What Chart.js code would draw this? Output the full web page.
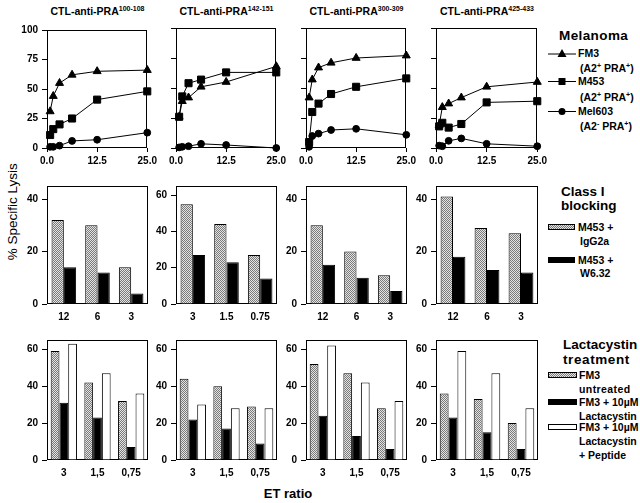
<!DOCTYPE html>
<html><head><meta charset="utf-8">
<script src="https://cdn.jsdelivr.net/npm/chart.js@4.4.1/dist/chart.umd.min.js"></script>
<style>
html,body{margin:0;padding:0;background:#fff;}
#root{position:relative;width:640px;height:503px;overflow:hidden;font-family:"Liberation Sans",Arial,Helvetica,sans-serif;color:#000;background:#fff;}
canvas{position:absolute;}
.t{position:absolute;white-space:nowrap;line-height:1;}
.title{font-size:10.5px;font-weight:bold;text-align:center;}
.title span{font-size:7px;position:relative;top:-4px;}
.lg{font-size:10.5px;font-weight:bold;}
.lg sup{font-size:7px;line-height:0;}
.hd{font-size:13.5px;font-weight:bold;}
.sw{position:absolute;border:1px solid #000;box-sizing:border-box;}
.gray{background:repeating-conic-gradient(#7a7a7a 0 25%,#e4e4e4 0 50%) 0 0/2px 2px;}
</style></head><body>
<div id="root">
  <div class="t title" style="left:47px;width:101px;top:6px">CTL-anti-PRA<span>100-108</span></div>
  <div class="t title" style="left:176px;width:101px;top:6px">CTL-anti-PRA<span>142-151</span></div>
  <div class="t title" style="left:306px;width:101px;top:6px">CTL-anti-PRA<span>300-309</span></div>
  <div class="t title" style="left:436px;width:102px;top:6px">CTL-anti-PRA<span>425-433</span></div>

  <div class="t" style="left:-47px;top:205px;width:120px;text-align:center;font-size:13.5px;transform:rotate(-90deg);">% Specific Lysis</div>
  <div class="t hd" style="left:250px;width:76px;text-align:center;top:487px;font-size:13px">ET ratio</div>

  <!-- Melanoma legend -->
  <div class="t hd" style="left:559px;top:29px;letter-spacing:0.4px">Melanoma</div>
  <svg class="t" style="left:548px;top:48px" width="28" height="11"><line x1="0" y1="6" x2="28" y2="6" stroke="#000" stroke-width="1"/><polygon points="14,1 18.5,9 9.5,9" fill="#000"/></svg>
  <div class="t lg" style="left:578px;top:48px">FM3</div>
  <div class="t lg" style="left:580px;top:63px">(A2<sup>+</sup> PRA<sup>+</sup>)</div>
  <svg class="t" style="left:548px;top:76px" width="28" height="11"><line x1="0" y1="5.5" x2="28" y2="5.5" stroke="#000" stroke-width="1"/><rect x="10.5" y="2" width="7" height="7" fill="#000"/></svg>
  <div class="t lg" style="left:578px;top:76px">M453</div>
  <div class="t lg" style="left:580px;top:92px">(A2<sup>+</sup> PRA<sup>+</sup>)</div>
  <svg class="t" style="left:548px;top:106px" width="28" height="11"><line x1="0" y1="5.5" x2="28" y2="5.5" stroke="#000" stroke-width="1"/><circle cx="14" cy="5.5" r="3.5" fill="#000"/></svg>
  <div class="t lg" style="left:578px;top:106px">Mel603</div>
  <div class="t lg" style="left:580px;top:121px">(A2<sup>-</sup> PRA<sup>+</sup>)</div>

  <!-- Class I blocking legend -->
  <div class="t hd" style="left:561px;top:185px">Class I</div>
  <div class="t hd" style="left:561px;top:199px">blocking</div>
  <div class="sw gray" style="left:548px;top:224px;width:27px;height:6px"></div>
  <div class="t lg" style="left:578px;top:222px">M453 +</div>
  <div class="t lg" style="left:580px;top:236px">IgG2a</div>
  <div class="sw" style="left:548px;top:257px;width:27px;height:6px;background:#000"></div>
  <div class="t lg" style="left:578px;top:255px">M453 +</div>
  <div class="t lg" style="left:580px;top:268px">W6.32</div>

  <!-- Lactacystin legend -->
  <div class="t hd" style="left:563px;top:338px">Lactacystin</div>
  <div class="t hd" style="left:563px;top:353px;letter-spacing:0.6px">treatment</div>
  <div class="sw gray" style="left:548px;top:372px;width:29px;height:6px"></div>
  <div class="t lg" style="left:579px;top:370px">FM3</div>
  <div class="t lg" style="left:579px;top:384px;letter-spacing:0.4px">untreated</div>
  <div class="sw" style="left:548px;top:399px;width:29px;height:6px;background:#000"></div>
  <div class="t lg" style="left:579px;top:397px">FM3 + 10µM</div>
  <div class="t lg" style="left:579px;top:411px">Lactacystin</div>
  <div class="sw" style="left:548px;top:424px;width:29px;height:6px;background:#fff"></div>
  <div class="t lg" style="left:579px;top:422px">FM3 + 10µM</div>
  <div class="t lg" style="left:579px;top:436px">Lactacystin</div>
  <div class="t lg" style="left:579px;top:450px">+ Peptide</div>
</div>
<script>
// ---------- DATA ----------
const etLine = [0.78, 1.56, 3.125, 6.25, 12.5, 25];
const xTicksLine = [0, 12.5, 25];
const yTicksLine = [0, 25, 50, 75, 100];

const fm3_100 = [31, 44, 55, 62, 65, 66];
const m453_100 = [11, 16, 20, 25, 41, 48];
const mel603_100 = [1, 1, 2, 6, 7, 13];

const fm3_142 = [26, 39, 42, 51, 55, 68];
const m453_142 = [26, 43, 54, 57, 63, 63];
const mel603_142 = [0.5, 1, 1.5, 3.5, 2.5, 0];

const fm3_300 = [42, 57, 67, 71, 75, 77];
const m453_300 = [5, 30, 37, 45, 51, 58];
const mel603_300 = [1, 10, 12, 15, 16, 11];

const fm3_425 = [19, 34, 37, 42, 51, 55];
const m453_425 = [18, 21, 17, 20, 38, 39];
const mel603_425 = [2, 1.5, 6, 8, 3.5, 1.5];

const blockLabelsA = ['12', '6', '3'];
const blockLabelsB = ['3', '1.5', '0.75'];
const yTicksBlock = [0, 20, 40];
const yTicksBlockB = [0, 20, 40, 60];
const igg_100 = [32, 30, 14];  const w632_100 = [14, 12, 4];
const igg_142 = [55, 44, 27];  const w632_142 = [27, 23, 14];
const igg_300 = [30, 20, 11];  const w632_300 = [15, 10, 5];
const igg_425 = [41, 29, 27];  const w632_425 = [18, 13, 12];

const lactLabels = ['3', '1,5', '0,75'];
const yTicksLact = [0, 20, 40, 60];
const untr_100 = [59, 42, 32]; const lact_100 = [31, 23, 7];  const pept_100 = [63, 47, 36];
const untr_142 = [44, 40, 29]; const lact_142 = [22, 17, 9];  const pept_142 = [30, 28, 28];
const untr_300 = [52, 47, 28]; const lact_300 = [24, 13, 6];  const pept_300 = [62, 42, 32];
const untr_425 = [36, 33, 20]; const lact_425 = [23, 15, 6];  const pept_425 = [59, 47, 28];

// ---------- LAYOUT ----------
const COLS = [[47, 148], [176, 277], [306, 407], [436, 538]];
const ROWS = [[28, 148], [184, 304], [338, 460]];
const YW = 40, XH = 22, PT = 8, PR = 12;

Chart.defaults.font.family = "'Liberation Sans', Arial, Helvetica, sans-serif";
Chart.defaults.font.size = 10;
Chart.defaults.font.weight = 'bold';
Chart.defaults.color = '#000';
Chart.defaults.animation = false;

const boxPlugin = {
  id: 'boxFrame',
  beforeDatasetsDraw(chart) {
    const {ctx, chartArea: a} = chart;
    ctx.save();
    ctx.strokeStyle = '#000'; ctx.lineWidth = 1;
    const l = Math.round(a.left) + 0.5, t = Math.round(a.top) + 0.5;
    const r = Math.round(a.right) - 0.5, b = Math.round(a.bottom) - 0.5;
    ctx.strokeRect(l, t, r - l, b - t);
    ctx.restore();
  }
};

function grayPattern() {
  const c = document.createElement('canvas'); c.width = 2; c.height = 2;
  const x = c.getContext('2d');
  x.fillStyle = '#e4e4e4'; x.fillRect(0, 0, 2, 2);
  x.fillStyle = '#7a7a7a'; x.fillRect(0, 0, 1, 1); x.fillRect(1, 1, 1, 1);
  return x.createPattern(c, 'repeat');
}
const GRAY = grayPattern();

function makeCanvas(ci, ri) {
  const [l, r] = COLS[ci], [t, b] = ROWS[ri];
  const c = document.createElement('canvas');
  const W = YW + (r - l) + PR, H = PT + (b - t) + XH;
  c.width = W; c.height = H;
  c.style.width = W + 'px'; c.style.height = H + 'px';
  c.style.left = (l - YW) + 'px'; c.style.top = (t - PT) + 'px';
  document.getElementById('root').appendChild(c);
  return c;
}

function yScale(max, ticksArr, show) {
  return {
    type: 'linear', min: 0, max: max,
    border: {display: false},
    grid: {display: true, drawOnChartArea: false, drawTicks: true, tickLength: 5, color: '#000', lineWidth: 1},
    ticks: {display: show, padding: 4, color: '#000', font: {size: 10, weight: 'bold'}},
    afterBuildTicks: s => { s.ticks = ticksArr.map(v => ({value: v})); },
    afterFit: s => { s.width = YW; }
  };
}

function baseOptions(scales) {
  return {
    responsive: false, animation: false, events: [],
    layout: {padding: {top: PT, right: PR, left: 0, bottom: 0}},
    plugins: {legend: {display: false}, tooltip: {enabled: false}, title: {display: false}},
    scales
  };
}

function lineChart(ci, fm3, m453, mel, showY) {
  const mk = (arr, style, r) => ({
    data: etLine.map((x, i) => ({x, y: arr[i]})),
    borderColor: '#000', borderWidth: 1, tension: 0, fill: false, clip: false,
    pointStyle: style, pointRadius: r, pointBackgroundColor: '#000', pointBorderColor: '#000', pointBorderWidth: 1
  });
  new Chart(makeCanvas(ci, 0), {
    type: 'line',
    data: {datasets: [mk(m453, 'rect', 5), mk(fm3, 'triangle', 4.6), mk(mel, 'circle', 3.4)]},
    options: baseOptions({
      x: {
        type: 'linear', min: 0, max: 25,
        border: {display: false},
        grid: {display: true, drawOnChartArea: false, drawTicks: true, tickLength: 4, color: '#000'},
        ticks: {padding: 3, maxRotation: 0, autoSkip: false, callback: v => Number(v).toFixed(1)},
        afterBuildTicks: s => { s.ticks = xTicksLine.map(v => ({value: v})); },
        afterFit: s => { s.height = XH; }
      },
      y: yScale(100, yTicksLine, showY)
    }),
    plugins: [boxPlugin]
  });
}

function catX() {
  return {
    type: 'category', border: {display: false},
    grid: {display: false, drawTicks: false, tickLength: 0},
    ticks: {padding: 7, maxRotation: 0, autoSkip: false},
    afterFit: s => { s.height = XH; }
  };
}

function barSet(arr, fill, pct) {
  return {data: arr, backgroundColor: fill, borderColor: '#000', borderWidth: 1,
          categoryPercentage: pct, barPercentage: 1};
}

function blockChart(ci, labels, igg, w632, ymax, yt) {
  new Chart(makeCanvas(ci, 1), {
    type: 'bar',
    data: {labels, datasets: [barSet(igg, GRAY, 0.73), barSet(w632, '#000', 0.73)]},
    options: baseOptions({x: catX(), y: yScale(ymax, yt, true)}),
    plugins: [boxPlugin]
  });
}

function lactChart(ci, untr, lact, pept) {
  new Chart(makeCanvas(ci, 2), {
    type: 'bar',
    data: {labels: lactLabels, datasets: [barSet(untr, GRAY, 0.78), barSet(lact, '#000', 0.78), barSet(pept, '#fff', 0.78)]},
    options: baseOptions({x: catX(), y: yScale(65, yTicksLact, true)}),
    plugins: [boxPlugin]
  });
}

lineChart(0, fm3_100, m453_100, mel603_100, true);
lineChart(1, fm3_142, m453_142, mel603_142, false);
lineChart(2, fm3_300, m453_300, mel603_300, false);
lineChart(3, fm3_425, m453_425, mel603_425, false);

blockChart(0, blockLabelsA, igg_100, w632_100, 45, yTicksBlock);
blockChart(1, blockLabelsB, igg_142, w632_142, 65, yTicksBlockB);
blockChart(2, blockLabelsA, igg_300, w632_300, 45, yTicksBlock);
blockChart(3, blockLabelsA, igg_425, w632_425, 45, yTicksBlock);

lactChart(0, untr_100, lact_100, pept_100);
lactChart(1, untr_142, lact_142, pept_142);
lactChart(2, untr_300, lact_300, pept_300);
lactChart(3, untr_425, lact_425, pept_425);
</script>
</body></html>
